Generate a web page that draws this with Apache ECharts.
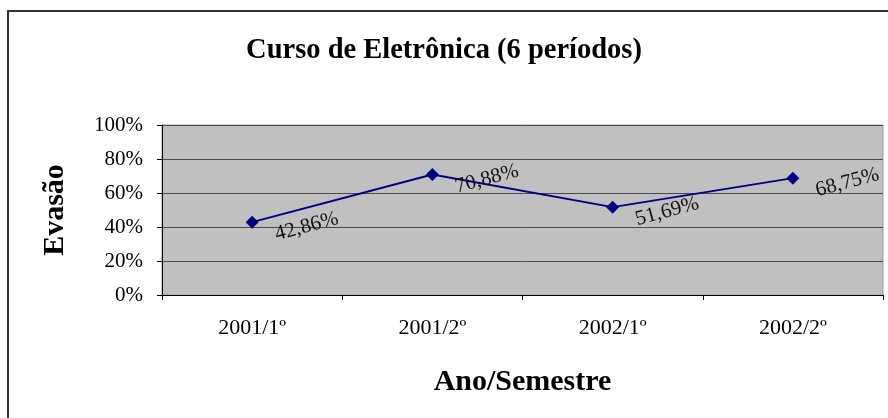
<!DOCTYPE html>
<html>
<head>
<meta charset="utf-8">
<script src="https://cdn.jsdelivr.net/npm/echarts@6/dist/echarts.min.js"></script>
<style>
  html, body { margin: 0; padding: 0; background: #fff; }
  #chart { width: 888px; height: 418px; }
</style>
</head>
<body>
<div id="chart"></div>
<script>
const categories = ["2001/1º", "2001/2º", "2002/1º", "2002/2º"];
const evasao = [42.86, 70.88, 51.69, 68.75];
const yTicks = [0, 20, 40, 60, 80, 100];

const serif = "'Liberation Serif', 'Times New Roman', serif";
const fmt = v => v.toFixed(2).replace(".", ",") + "%";

const chart = echarts.init(document.querySelector("#chart"));
chart.setOption({
  animation: false,
  backgroundColor: "#fff",
  title: {
    text: "Curso de Eletrônica (6 períodos)",
    left: "center",
    top: 36,
    padding: 0,
    textStyle: { fontFamily: serif, fontSize: 28.5, fontWeight: "bold", color: "#000" }
  },
  graphic: [{
    type: "rect",
    shape: { x: 8, y: 11, width: 900, height: 450 },
    style: { fill: "none", stroke: "#333", lineWidth: 2 },
    silent: true
  }],
  grid: { left: 162, right: 5, top: 125, bottom: 123, show: true, backgroundColor: "#c0c0c0", borderColor: "#999", borderWidth: 1 },
  xAxis: {
    type: "category",
    data: categories,
    boundaryGap: true,
    name: "Ano/Semestre",
    nameLocation: "middle",
    nameGap: 72,
    nameTextStyle: { fontFamily: serif, fontSize: 30, fontWeight: "bold", color: "#000" },
    axisLine: { lineStyle: { color: "#000", width: 1 } },
    axisTick: { show: true, length: 5, inside: false, alignWithLabel: false, lineStyle: { color: "#000" } },
    axisLabel: { fontFamily: serif, fontSize: 22, color: "#000", margin: 22 },
    splitLine: { show: false }
  },
  yAxis: {
    type: "value",
    min: yTicks[0],
    max: yTicks[yTicks.length - 1],
    interval: 20,
    name: "Evasão",
    nameLocation: "middle",
    nameGap: 92,
    nameTextStyle: { fontFamily: serif, fontSize: 30, fontWeight: "bold", color: "#000" },
    axisLine: { show: true, lineStyle: { color: "#000", width: 1 } },
    axisTick: { show: true, length: 5, lineStyle: { color: "#000" } },
    axisLabel: { fontFamily: serif, fontSize: 21, color: "#000", margin: 19, formatter: v => v + "%" },
    splitLine: { show: true, lineStyle: { color: "#4a4a4a", width: 1 } }
  },
  series: [{
    type: "line",
    data: evasao,
    symbol: "diamond",
    symbolSize: 13,
    itemStyle: { color: "#000080" },
    lineStyle: { color: "#000080", width: 2 },
    label: {
      show: true,
      formatter: p => fmt(p.value),
      position: [61, 11],
      align: "center",
      verticalAlign: "middle",
      rotate: 15,
      fontFamily: serif,
      fontSize: 21,
      color: "#111"
    }
  }]
});
</script>
</body>
</html>
